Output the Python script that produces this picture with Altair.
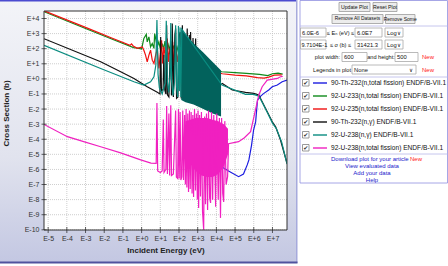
import altair as alt
import pandas as pd

# ---------------- data: log10(E / eV) and log10(sigma / b) ----------------
th232_fis_E = [3.60, 4.32, 4.65, 5.19, 5.45, 5.65, 5.74, 5.88, 5.99, 6.10, 6.20, 6.37, 6.54, 6.80, 6.99, 7.26, 7.52, 7.78]
th232_fis_S = [-5.48, -5.85, -6.10, -6.48, -6.30, -5.70, -5.37, -4.40, -3.39, -2.85, -1.40, -1.14, -0.96, -0.74, -0.52, -0.41, -0.19, -0.08]

u233_fis_E = [-5.22, -3.0, -1.6, -0.43, -0.2, 0.0, 0.12, 0.25, 0.30, 0.39, 0.48, 0.57, 0.66, 0.70, 0.75, 0.84,
              0.92, 1.02, 1.11, 1.18, 1.25, 1.32, 1.40, 1.48, 1.55, 1.62, 1.70, 1.80, 1.90, 2.00, 2.10, 2.20,
              4.28, 5.0, 5.6, 6.3, 6.75, 7.0, 7.3, 7.55]
u233_fis_S = [4.45, 3.34, 2.64, 2.07, 2.04, 1.98, 2.68, 2.95, 2.45, 2.78, 2.12, 2.34, 2.02, 3.0, 2.68, 2.12,
              2.45, 1.90, 2.34, 1.95, 2.5, 1.85, 2.4, 1.9, 2.3, 1.8, 2.2, 1.7, 2.1, 1.6, 2.0, 1.5,
              0.47, 0.42, 0.36, 0.30, 0.22, 0.34, 0.38, 0.32]

u235_fis_E = [-5.22, -3.0, -1.6, -0.62, -0.54, -0.45, -0.23, 0.04, 0.12, 0.21, 0.30, 0.39, 0.48, 0.57, 0.66, 0.75, 0.84,
              0.92, 1.02, 1.07, 1.12, 1.19, 1.28, 1.37, 1.43, 1.50, 1.59, 1.66, 1.73, 1.82, 1.91, 2.00, 2.09, 2.18, 2.26,
              4.32, 5.0, 5.6, 6.2, 6.55, 6.8, 7.1, 7.5]
u235_fis_S = [4.51, 3.41, 2.71, 2.22, 2.32, 2.18, 2.02, 2.12, 1.90, 1.57, 1.13, 1.57, 1.90, 1.24, 1.02, 1.57, 2.02,
              0.69, 1.79, 2.56, 1.02, 2.12, 1.35, 2.68, 1.13, 2.02, 1.24, 2.45, 0.91, 2.23, 1.13, 1.90, 1.02, 1.80, 1.00,
              0.34, 0.25, 0.20, 0.08, 0.05, 0.12, 0.25, 0.26]

th232_cap_E = [-5.22, -2.19, -1.12, -0.41, 0.30, 0.84, 0.98, 1.02, 1.06, 1.15, 1.19, 1.24, 1.30, 1.34, 1.38, 1.46,
               1.55, 1.60, 1.64, 1.70, 1.78, 1.82, 1.87, 1.94, 2.00, 2.06, 2.12, 2.18, 2.24, 2.30, 2.37, 2.44,
               2.50, 2.55, 2.59, 2.62, 2.68, 2.75, 2.82, 2.89, 2.95,
               4.32, 4.85, 5.56, 6.0, 6.27, 6.45, 6.72, 6.99, 7.17, 7.43, 7.78]
th232_cap_S = [2.66, 1.13, 0.47, 0.03, -0.52, -0.89, -1.0, 2.78, -0.80, -0.7, 1.6, -0.75, -1.0, 3.56, -1.05, -1.19,
               2.5, -1.1, 3.67, -1.2, 2.9, 3.34, -1.29, -1.2, 2.8, 3.1, -1.3, 3.56, -1.4, 3.0, -1.35, 3.34,
               -1.5, 2.9, -1.45, 3.11, -1.6, 2.7, -1.55, 2.68, -1.7,
               -0.30, -0.74, -0.89, -0.96, -1.07, -1.52, -2.18, -2.84, -3.17, -4.05, -5.59]

u238_cap_E = [-5.22, -2.19, -0.41, 0.12, 0.48, 0.66, 0.76, 0.82, 0.88, 0.95, 1.10, 1.25, 1.32, 1.38, 1.45, 1.52,
              1.56, 1.60, 1.68, 1.76, 1.82, 1.87, 1.93, 1.97, 2.02, 2.06, 2.10, 2.15,
              4.30, 5.56, 5.99, 6.27, 6.47, 6.74, 7.00, 7.22, 7.49, 7.78]
u238_cap_S = [2.22, 0.69, -0.19, -0.41, -0.19, 0.14, 0.90, 3.90, 0.30, -0.60, -1.00, -0.30, 3.85, -0.20, -0.90, 0.20,
              3.70, -0.10, -1.10, -0.20, 3.55, -0.50, -1.20, 3.50, -0.80, 3.40, -1.20, 3.30,
              -0.41, -1.03, -1.03, -1.14, -1.60, -2.26, -2.93, -3.32, -4.18, -5.64]
# dense resolved-resonance region of U-238(n,g), drawn as its envelope
u238_cap_band_E = [2.12, 2.35, 2.78, 3.30, 3.80, 4.25]
u238_cap_band_top = [3.25, 2.95, 2.36, 1.75, 1.12, 0.55]
u238_cap_band_bot = [-1.40, -1.55, -1.70, -2.00, -2.30, -2.50]

u238_fis_E = [-5.22, -3.97, -3.10, -2.19, -1.12, -0.05, 0.50, 0.78, 0.82, 0.86, 1.00, 1.10, 1.16, 1.20, 1.30, 1.34,
              1.38, 1.46, 1.50, 1.56, 1.60, 1.70, 1.82, 1.86, 1.93, 1.97, 2.01, 2.06, 2.10, 2.15, 2.20, 2.24,
              2.30, 2.34, 2.38, 2.42, 2.47, 2.51, 2.56, 2.60, 2.65, 2.70, 2.74, 2.78, 2.83, 2.88, 2.93, 2.98,
              3.02, 3.05, 3.10, 3.15, 3.20, 3.26, 3.32, 3.37, 3.42, 3.47, 3.53, 3.58, 3.64, 3.69, 3.74, 3.80,
              3.86, 3.96, 4.02, 4.10, 4.16, 4.22, 4.28, 4.34, 4.39, 4.45, 4.52, 4.60, 4.65, 5.19, 5.50, 5.83,
              5.99, 6.27, 6.45, 6.72, 7.26, 7.43, 7.55]
u238_fis_S = [-3.02, -3.83, -4.16, -4.50, -4.90, -5.37, -5.58, -5.60, -1.60, -6.10, -6.20, -6.10, -2.70, -6.20, -6.00, -1.80,
              -6.30, -2.30, -6.40, -1.75, -6.40, -6.30, -2.10, -6.50, -6.60, -2.00, -6.60, -2.20, -6.70, -6.50, -2.10, -6.70,
              -2.40, -7.00, -2.00, -7.20, -2.30, -7.50, -2.10, -7.30, -2.20, -7.60, -2.40, -7.82, -2.00, -7.40, -2.30, -8.00,
              -2.10, -8.55, -2.40, -7.80, -2.20, -8.80, -10.0, -2.50, -8.30, -2.30, -8.68, -2.10, -7.90, -8.22, -2.20, -8.00,
              -2.40, -8.48, -2.30, -8.00, -2.60, -9.21, -2.60, -7.60, -8.15, -2.80, -7.00, -6.48, -4.30, -4.16, -3.90, -3.50,
              -2.62, -1.07, -0.52, -0.08, 0.03, 0.14, 0.16]
u238_fis_band_E = [2.35, 2.60, 2.90, 3.20, 3.50, 3.80, 4.10, 4.40, 4.62]
u238_fis_band_top = [-2.8, -2.7, -2.6, -2.6, -2.6, -2.7, -2.8, -3.0, -3.3]
u238_fis_band_bot = [-4.8, -5.6, -6.1, -6.4, -6.5, -6.5, -6.3, -5.8, -5.0]

series_names = ["90-Th-232(n,total fission) ENDF/B-VII.1", "92-U-233(n,total fission) ENDF/B-VII.1",
                "92-U-235(n,total fission) ENDF/B-VII.1", "90-Th-232(n,\u03b3) ENDF/B-VII.1",
                "92-U-238(n,\u03b3) ENDF/B-VII.1", "92-U-238(n,total fission) ENDF/B-VII.1"]
series_colors = ["#1c1ce0", "#0f8a1a", "#f01010", "#111111", "#0a8c80", "#f020c0"]
band_colors = ["#02625c", "#f020c0"]

x_ticks = list(range(-5, 8))
y_ticks = list(range(-10, 5))
x_title = "Incident Energy (eV)"
y_title = "Cross Section (b)"

button_labels = ["Update Plot", "Reset Plot", "Remove All Datasets", "Remove Some"]
energy_range = ["6.0E-6", "6.0E7"]
sigma_range = ["9.7104E-1", "31421.3"]
plot_size = ["600", "500"]
link_labels = ["View evaluated data", "Add your data", "Help"]

# ---------------- layout ----------------
OX, OY = 44, 11
W, H = 243, 219
XMIN, XMAX = -5.222, 7.778
YMIN, YMAX = -10.013, 4.497
FONT = "Liberation Sans, DejaVu Sans, sans-serif"

xs = alt.Scale(domain=[XMIN, XMAX], nice=False, zero=False)
ys = alt.Scale(domain=[YMIN, YMAX], nice=False, zero=False)
label_expr = "'E' + (datum.value < 0 ? '-' : '+') + abs(datum.value)"

AX = alt.Axis(values=x_ticks, labelExpr=label_expr, ticks=False, domain=False, grid=False,
              labelFont=FONT, labelFontSize=7, labelColor="#333", labelPadding=4, labelFlush=False,
              title=x_title, titleFont=FONT, titleFontSize=8, titleFontWeight="bold", titleColor="#222",
              titleX=W / 2, titleY=20, titleBaseline="middle", titleAlign="center", zindex=1)
AY = alt.Axis(values=y_ticks, labelExpr=label_expr, ticks=False, domain=False, grid=False,
              labelFont=FONT, labelFontSize=7, labelColor="#333", labelPadding=5, labelFlush=False,
              title=y_title, titleFont=FONT, titleFontSize=8, titleFontWeight="bold", titleColor="#222",
              titleX=6 - OX, titleY=113 - OY, titleAngle=270, titleBaseline="middle", titleAlign="center",
              zindex=1)


def line_layer(E, S, color, width=1.2):
    df = pd.DataFrame({"logE": E, "logS": S, "i": list(range(len(E)))})
    return alt.Chart(df).mark_line(color=color, strokeWidth=width, clip=True).encode(
        x=alt.X("logE:Q", scale=xs, axis=AX),
        y=alt.Y("logS:Q", scale=ys, axis=AY),
        order="i:Q")


def band_layer(E, top, bot, color):
    df = pd.DataFrame({"logE": E, "top": top, "bot": bot})
    return alt.Chart(df).mark_area(color=color, clip=True).encode(
        x=alt.X("logE:Q", scale=xs, axis=AX),
        y=alt.Y("top:Q", scale=ys, axis=AY),
        y2="bot:Q")


def rect_df(rows):
    df = pd.DataFrame(rows, columns=["x0", "y0", "x1", "y1", "fill", "stroke"])
    df["x0"] = df["x0"] - OX
    df["x1"] = df["x1"] - OX
    df["y0"] = df["y0"] - OY
    df["y1"] = df["y1"] - OY
    return df


def rect_layer(rows, sw=0.8):
    return alt.Chart(rect_df(rows)).mark_rect(strokeWidth=sw).encode(
        x=alt.X("x0:Q", scale=None), x2="x1:Q",
        y=alt.Y("y0:Q", scale=None), y2="y1:Q",
        fill=alt.Fill("fill:N", scale=None),
        stroke=alt.Stroke("stroke:N", scale=None))


def text_layer(rows, align, weight="normal"):
    df = pd.DataFrame(rows, columns=["x", "y", "t", "c", "fs"])
    df["x"] = df["x"] - OX
    df["y"] = df["y"] - OY
    return alt.Chart(df).mark_text(align=align, baseline="middle", font=FONT, fontWeight=weight).encode(
        x=alt.X("x:Q", scale=None),
        y=alt.Y("y:Q", scale=None),
        text="t:N",
        color=alt.Color("c:N", scale=None),
        size=alt.Size("fs:Q", scale=None))


# ---------------- page background (image panel) ----------------
grad = alt.Gradient(gradient="linear", x1=0, x2=0, y1=0, y2=1,
                    stops=[alt.GradientStop(color="#f3f4f8", offset=0),
                           alt.GradientStop(color="#e1e3ee", offset=0.6),
                           alt.GradientStop(color="#c3c7e2", offset=1)])
bg_df = rect_df([(0, 0, 297, 263, "x", "x")])
page_bg = alt.Chart(bg_df).mark_rect(fill=grad).encode(
    x=alt.X("x0:Q", scale=None), x2="x1:Q",
    y=alt.Y("y0:Q", scale=None), y2="y1:Q")
page_lines = rect_layer([
    (0, 0, 297, 1.6, "#4b4bd0", "transparent"),
    (296, 0, 297.5, 263, "#a6aadc", "transparent"),
    (0, 261.5, 297.5, 263.5, "#50529e", "transparent"),
])

# ---------------- plot area ----------------
dom_df = pd.DataFrame({"x0": [XMIN], "x1": [XMAX], "y0": [YMIN], "y1": [YMAX]})
plot_bg = alt.Chart(dom_df).mark_rect(fill="white").encode(
    x=alt.X("x0:Q", scale=xs, axis=AX), x2="x1:Q",
    y=alt.Y("y0:Q", scale=ys, axis=AY), y2="y1:Q")

grid_x = alt.Chart(pd.DataFrame({"v": x_ticks})).mark_rule(
    color="#c2c2c2", strokeDash=[1, 1], strokeWidth=0.8).encode(x=alt.X("v:Q", scale=xs, axis=AX))
grid_y = alt.Chart(pd.DataFrame({"v": y_ticks})).mark_rule(
    color="#c2c2c2", strokeDash=[1, 1], strokeWidth=0.8).encode(y=alt.Y("v:Q", scale=ys, axis=AY))

frame = alt.Chart(dom_df).mark_rect(filled=False, stroke="#333", strokeWidth=1).encode(
    x=alt.X("x0:Q", scale=xs, axis=AX), x2="x1:Q",
    y=alt.Y("y0:Q", scale=ys, axis=AY), y2="y1:Q")

xtick = alt.Chart(pd.DataFrame({"v": x_ticks, "b": [YMIN] * len(x_ticks)})).mark_tick(
    orient="vertical", size=6, thickness=1, color="#222").encode(
    x=alt.X("v:Q", scale=xs, axis=AX), y=alt.Y("b:Q", scale=ys, axis=AY))
ytick = alt.Chart(pd.DataFrame({"v": y_ticks, "b": [XMIN] * len(y_ticks)})).mark_tick(
    orient="horizontal", size=5, thickness=1, color="#222").encode(
    y=alt.Y("v:Q", scale=ys, axis=AY), x=alt.X("b:Q", scale=xs, axis=AX))

series = [
    line_layer(th232_fis_E, th232_fis_S, series_colors[0]),
    line_layer(u233_fis_E, u233_fis_S, series_colors[1]),
    line_layer(u235_fis_E, u235_fis_S, series_colors[2]),
    line_layer(th232_cap_E, th232_cap_S, series_colors[3]),
    band_layer(u238_cap_band_E, u238_cap_band_top, u238_cap_band_bot, band_colors[0]),
    line_layer(u238_cap_E, u238_cap_S, series_colors[4]),
    band_layer(u238_fis_band_E, u238_fis_band_top, u238_fis_band_bot, band_colors[1]),
    line_layer(u238_fis_E, u238_fis_S, series_colors[5]),
]

# ---------------- control panel ----------------
row_y = [83 + 13 * i for i in range(len(series_names))]
BORDER = "#8f8fe0"
BTN, BTNS = "#ececec", "#9c9c9c"
INP, INPS = "white", "#a8a8a8"
panel_rects = [(300, 0.5, 447.5, 183, "white", BORDER)]
panel_rects += [
    (339, 2.5, 370, 11.5, BTN, BTNS), (373, 2.5, 397, 11.5, BTN, BTNS),
    (332, 14.5, 383, 23.5, BTN, BTNS), (385.5, 14.5, 415, 23.5, BTN, BTNS),
    (300.5, 28, 326, 37, INP, INPS), (355, 28, 382, 37, INP, INPS), (385, 28, 403, 37, INP, INPS),
    (300.5, 40, 326, 49, INP, INPS), (355, 40, 382, 49, INP, INPS), (385, 40, 403, 49, INP, INPS),
    (342, 52.5, 367, 61.5, INP, INPS), (395, 52.5, 418, 61.5, INP, INPS),
    (352, 65, 416, 74, INP, INPS),
]
panel_rects += [(302.5, y - 3.5, 309, y + 3, "white", "#808080") for y in row_y]
panel_box = rect_layer(panel_rects)

sep_df = pd.DataFrame({"x0": [300 - OX] * 3, "x1": [447.5 - OX] * 3, "y": [26 - OY, 77 - OY, 154 - OY]})
seps = alt.Chart(sep_df).mark_rule(color="#b8b8ea", strokeWidth=0.8).encode(
    x=alt.X("x0:Q", scale=None), x2="x1:Q", y=alt.Y("y:Q", scale=None))

sym_df = pd.DataFrame({"x0": [313 - OX] * 6, "x1": [327 - OX] * 6, "y": [y - OY for y in row_y],
                       "c": series_colors})
symbols = alt.Chart(sym_df).mark_rule(strokeWidth=1.4).encode(
    x=alt.X("x0:Q", scale=None), x2="x1:Q", y=alt.Y("y:Q", scale=None),
    color=alt.Color("c:N", scale=None))

BLK, RED, LINK = "#111111", "#ff2020", "#2222cc"
left_txt = [
    (302, 32.5, energy_range[0], BLK, 5.8), (357, 32.5, energy_range[1], BLK, 5.8), (387, 32.5, "Log", BLK, 5.8),
    (301.5, 44.5, sigma_range[0], BLK, 5.6), (357, 44.5, sigma_range[1], BLK, 5.8), (387, 44.5, "Log", BLK, 5.8),
    (344, 57, plot_size[0], BLK, 5.8), (397, 57, plot_size[1], BLK, 5.8),
    (354, 69.5, "None", BLK, 5.8),
    (331, 159, "Download plot for your article", LINK, 6.0), (410, 159, "New", RED, 6.0),
]
left_txt += [(331, y, n, BLK, 6.6) for y, n in zip(row_y, series_names)]
center_txt = [
    (354.5, 7, button_labels[0], BLK, 5.2), (385, 7, button_labels[1], BLK, 5.2),
    (357.5, 19, button_labels[2], BLK, 4.9), (400.2, 19, button_labels[3], BLK, 5.0),
    (340.5, 32.5, "\u2264 E\u2099 (eV) \u2264", BLK, 5.6), (399, 32.5, "\u2228", BLK, 5.5),
    (340.5, 44.5, "\u2264   \u03c3 (b)   \u2264", BLK, 5.6), (399, 44.5, "\u2228", BLK, 5.5),
    (381, 57, "and height:", BLK, 5.6), (428, 57, "New", RED, 6.0),
    (332, 69.5, "Legends in plot", BLK, 5.6), (411, 69.5, "\u2228", BLK, 5.5), (428, 69.5, "New", RED, 6.0),
    (372, 166, link_labels[0], LINK, 6.0), (372, 173, link_labels[1], LINK, 6.0), (372, 180, link_labels[2], LINK, 6.0),
]
center_txt += [(305.8, y - 0.3, "\u2714", "#333333", 6) for y in row_y]
right_txt = [(340, 57, "plot width:", BLK, 5.6)]

layers = [page_bg, page_lines, plot_bg, grid_x, grid_y] + series + [
    frame, xtick, ytick, panel_box, seps, symbols,
    text_layer(left_txt, "left"), text_layer(center_txt, "center"), text_layer(right_txt, "right")]

chart = alt.layer(*layers).properties(
    width=W, height=H,
    autosize=alt.AutoSizeParams(type="none"),
    padding={"left": OX, "top": OY, "right": 448 - OX - W, "bottom": 266 - OY - H},
    background="white",
).configure_view(stroke=None)

chart.save("out.html", embed_options={"renderer": "svg", "actions": False})
